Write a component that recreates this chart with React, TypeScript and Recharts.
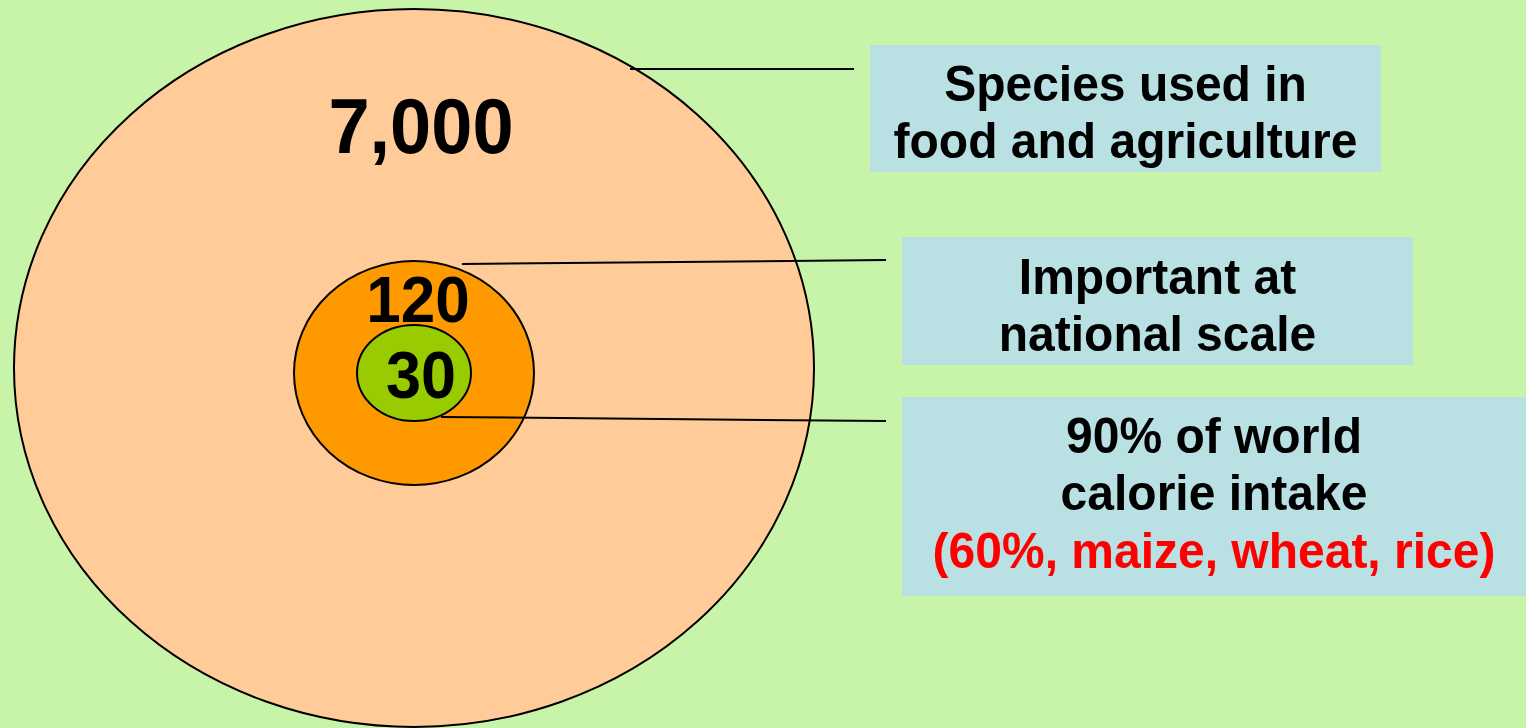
import { ScatterChart, Scatter, XAxis, YAxis } from "recharts";

const CHART_W = 1526;
const CHART_H = 728;

// nested rings (data units = canvas units)
const ringLabels = ["7,000", "120", "30"];
const ringCenterX = [414, 414, 414];
const ringCenterY = [368, 373, 373];
const ringRadiusX = [400, 120, 57];
const ringRadiusY = [359, 112, 48];

// ring numbers
const numberX = [421, 418, 421];
const numberY = [153, 322, 398];

// leader lines from ring edge to caption box
const leaderFromX = [630, 462, 441];
const leaderFromY = [69, 264, 417];
const leaderToX = [854, 886, 886];
const leaderToY = [69, 260, 421];

// caption boxes
const boxLeft = [870, 902, 902];
const boxRight = [1381, 1413, 1526];
const boxTop = [45, 237, 397];
const boxBottom = [172, 365, 596];

const captionLines = [
  ["Species used in", "food and agriculture"],
  ["Important at", "national scale"],
  ["90% of world", "calorie intake", "(60%, maize, wheat, rice)"],
];
const captionBaselines = [
  [101, 158],
  [294, 351],
  [453, 510, 568],
];

const RING_COLORS = ["#FFCC99", "#FF9900", "#99CC00"];
const NUMBER_SIZES = [74, 62, 63];
const BOX_COLOR = "#B9E0E3";
const BG = "#C8F4A9";
const FONT = "'Liberation Sans', Arial, Helvetica, sans-serif";
const TEXT_STRETCH = 1.06; // source lettering is a touch taller than Arial

// pixels per data unit (plot area spans the full canvas)
const SX = CHART_W / CHART_W;
const SY = CHART_H / CHART_H;

const ringData = ringLabels.map((name, i) => ({
  name,
  x: ringCenterX[i],
  y: ringCenterY[i],
  rx: ringRadiusX[i],
  ry: ringRadiusY[i],
  fill: RING_COLORS[i],
}));

const boxData = boxLeft.map((x, i) => ({
  x,
  y: boxTop[i],
  w: boxRight[i] - x,
  h: boxBottom[i] - boxTop[i],
}));

const textData: { x: number; y: number; text: string; size: number; color: string }[] = [];
ringLabels.forEach((t, i) =>
  textData.push({ x: numberX[i], y: numberY[i], text: t, size: NUMBER_SIZES[i], color: "#000" })
);
captionLines.forEach((lines, b) =>
  lines.forEach((t, j) =>
    textData.push({
      x: (boxLeft[b] + boxRight[b]) / 2,
      y: captionBaselines[b][j],
      text: t,
      size: 48,
      color: t.startsWith("(") ? "#FF0000" : "#000",
    })
  )
);

const EllipseShape = (props: any) => {
  const { cx, cy, payload } = props;
  return (
    <ellipse
      cx={cx}
      cy={cy}
      rx={payload.rx * SX}
      ry={payload.ry * SY}
      fill={payload.fill}
      stroke="#000"
      strokeWidth={2}
    />
  );
};

const BoxShape = (props: any) => {
  const { cx, cy, payload } = props;
  return <rect x={cx} y={cy} width={payload.w * SX} height={payload.h * SY} fill={BOX_COLOR} />;
};

const TextShape = (props: any) => {
  const { cx, cy, payload } = props;
  return (
    <text
      x={0}
      y={0}
      transform={`translate(${cx},${cy}) scale(1,${TEXT_STRETCH})`}
      textAnchor="middle"
      fontFamily={FONT}
      fontWeight="bold"
      fontSize={payload.size}
      fill={payload.color}
    >
      {payload.text}
    </text>
  );
};

const NoDot = () => <g />;

export default function App() {
  return (
    <div
      style={{
        position: "fixed",
        left: 0,
        top: 0,
        width: CHART_W,
        height: CHART_H,
        background: BG,
      }}
    >
      <ScatterChart width={CHART_W} height={CHART_H} margin={{ top: 0, right: 0, bottom: 0, left: 0 }}>
        <XAxis type="number" dataKey="x" domain={[0, CHART_W]} hide />
        <YAxis type="number" dataKey="y" domain={[0, CHART_H]} reversed hide />
        <Scatter data={ringData} shape={EllipseShape} isAnimationActive={false} />
        {leaderFromX.map((x, i) => (
          <Scatter
            key={"leader" + i}
            data={[
              { x, y: leaderFromY[i] },
              { x: leaderToX[i], y: leaderToY[i] },
            ]}
            line={{ stroke: "#000", strokeWidth: 2 }}
            lineType="joint"
            shape={NoDot}
            isAnimationActive={false}
          />
        ))}
        <Scatter data={boxData} shape={BoxShape} isAnimationActive={false} />
        <Scatter data={textData} shape={TextShape} isAnimationActive={false} />
      </ScatterChart>
    </div>
  );
}
